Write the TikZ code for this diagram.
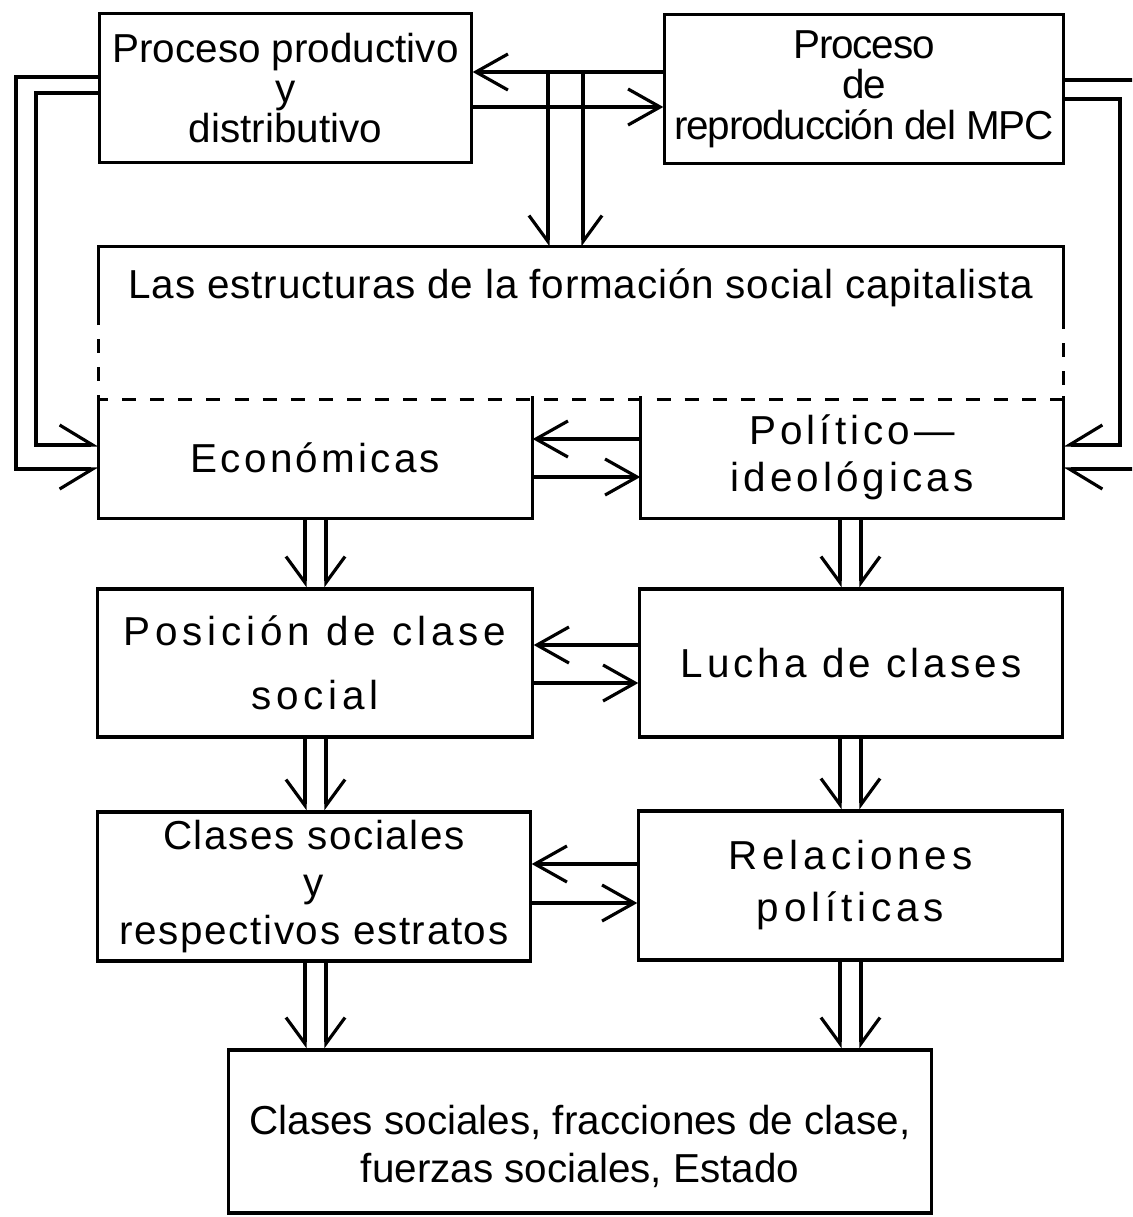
\documentclass[tikz,border=0pt]{standalone}
\usepackage{fontspec}
\setmainfont{Liberation Sans}
\usetikzlibrary{arrows.meta}
\begin{document}
\begin{tikzpicture}[x=0.01cm,y=-0.01cm,line width=0.9pt,line cap=butt,line join=miter,
    >={Straight Barb[length=0.32cm,width=0.36cm]},font=\fontsize{11.5}{13.5}\selectfont]
  \tikzset{frame/.style={draw,inner sep=0pt,align=center},
    open/.style={inner sep=0pt,align=center},
    ls/.style={font=\fontsize{11.5}{13.5}\selectfont\addfontfeature{LetterSpace=#1}},
    dnw/.style={-{Straight Barb[right,length=0.26cm,width=0.38cm]}},
    dne/.style={-{Straight Barb[left,length=0.26cm,width=0.38cm]}},
    hl/.style={-{Straight Barb[left,length=0.33cm,width=0.4cm]}},
    hr/.style={-{Straight Barb[right,length=0.33cm,width=0.4cm]}}}
  \useasboundingbox (0,0) rectangle (1132,1217);
  \clip (0,0) rectangle (1132,1217);
  % procesos
  \node[frame,minimum width=3.71cm,minimum height=1.49cm] (proc) at (285.5,88)
       {Proceso productivo\\[-2pt] y\\[-2pt] distributivo};
  \node[frame,ls=-3,minimum width=3.98cm,minimum height=1.49cm] (repro) at (864,89)
       {Proceso\\[-2pt] de\\[-2pt] reproducción del MPC};
  % estructuras
  \node[open,minimum width=9.62cm,minimum height=1.5cm] (estr) at (581,323) {};
  \node[ls=2] (estrtxt) at (581,288) {Las estructuras de la formación social capitalista};
  \draw (estr.west |- 0,325) |- (estr.north east) -- (estr.east |- 0,325);
  \draw[dash pattern=on 4pt off 4pt,dash phase=4pt] (estr.west |- 0,325) -- (estr.south west)
       -- (estr.south east) -- (estr.east |- 0,325);
  \node[open,ls=8,minimum width=4.31cm,minimum height=1.19cm] (econ) at (315.5,457.5) {Económicas};
  \node[open,ls=10,minimum width=4.2cm,minimum height=1.19cm] (polit) at (852,457.5)
       {Político—\\ ideológicas};
  \draw (econ.north west) |- (econ.south east) -- (econ.north east);
  \draw (polit.north west) |- (polit.south east) -- (polit.north east);
  % clases
  \node[frame,ls=12,minimum width=4.34cm,minimum height=1.48cm] (posic) at (315,663)
       {Posición de clase\\[4.7pt] social};
  \node[frame,ls=10,minimum width=4.22cm,minimum height=1.48cm] (lucha) at (851,663) {Lucha de clases};
  \node[frame,ls=4,minimum width=4.32cm,minimum height=1.49cm] (clases) at (314,886.5)
       {Clases sociales\\ y\\ respectivos estratos};
  \node[frame,ls=12,minimum width=4.23cm,minimum height=1.49cm] (relac) at (850.5,885.5)
       {Relaciones\\[1.3pt] políticas};
  \node[frame,minimum width=7.02cm,minimum height=1.63cm] (final) at (580,1131.5) {};
  \node[align=center] (finaltxt) at (580,1146.5)
       {Clases sociales, fracciones de clase,\\ fuerzas sociales, Estado};
  % flechas
  \draw[->] (repro.west |- 0,72) -- (proc.east |- 0,72);
  \draw[->] (proc.east |- 0,107) -- (repro.west |- 0,107);
  \coordinate (bajaw) at (548,72);
  \coordinate (bajae) at (583,72);
  \draw[dnw] (bajaw) -- (estr.north -| bajaw);
  \draw[dne] (bajae) -- (estr.north -| bajae);
  \draw[hr] (proc.west |- 0,77) -| (16,469) -- (econ.west |- 0,469);
  \draw[hl] (proc.west |- 0,93) -| (36,445) -- (econ.west |- 0,445);
  \draw[hl] (repro.east |- 0,80) -| (1150,469) -- (polit.east |- 0,469);
  \draw[hr] (repro.east |- 0,99) -| (1120,445) -- (polit.east |- 0,445);
  \foreach \l/\r/\ya/\yb in {econ/polit/439/477,posic/lucha/645/683,clases/relac/864/903}{
      \draw[->] (\r.west |- 0,\ya) -- (\l.east |- 0,\ya);
      \draw[->] (\l.east |- 0,\yb) -- (\r.west |- 0,\yb);}
  \foreach \s/\t/\xa/\xb in {econ/posic/305/326,posic/clases/305/326,clases/final/305/326,
      polit/lucha/840/861,lucha/relac/840/861,relac/final/840/861}{
      \draw[dnw] (\s.south -| \xa,0) -- (\t.north -| \xa,0);
      \draw[dne] (\s.south -| \xb,0) -- (\t.north -| \xb,0);}
\end{tikzpicture}
\end{document}
